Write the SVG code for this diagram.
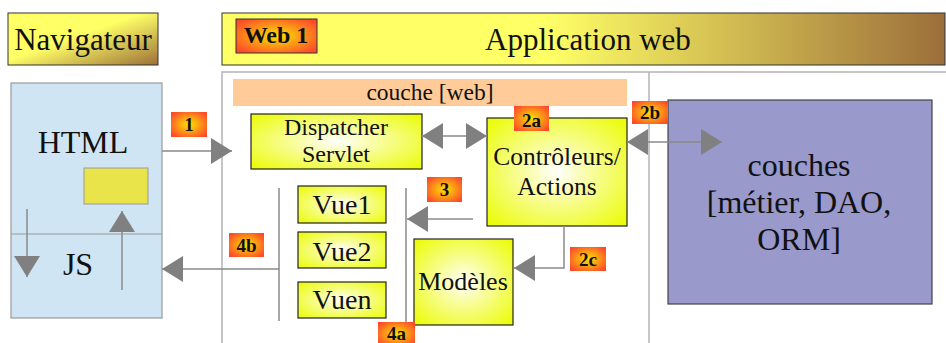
<svg xmlns="http://www.w3.org/2000/svg" width="946" height="343" viewBox="0 0 946 343">
  <defs>
    <linearGradient id="goldNav" x1="0" y1="0" x2="1" y2="1">
      <stop offset="0" stop-color="#ffff66"/>
      <stop offset="0.45" stop-color="#ffff66"/>
      <stop offset="1" stop-color="#9c7038"/>
    </linearGradient>
    <linearGradient id="goldApp" x1="0" y1="0" x2="1" y2="0">
      <stop offset="0" stop-color="#ffff66"/>
      <stop offset="0.45" stop-color="#ffff66"/>
      <stop offset="1" stop-color="#9c6e3a"/>
    </linearGradient>
    <radialGradient id="badgeFill" cx="0.5" cy="0.5" r="0.62">
      <stop offset="0" stop-color="#ffe000"/>
      <stop offset="0.35" stop-color="#fbb010"/>
      <stop offset="1" stop-color="#ff4a2a"/>
    </radialGradient>
    <radialGradient id="boxFill" cx="0.5" cy="0.5" r="0.65">
      <stop offset="0" stop-color="#ffffff"/>
      <stop offset="0.3" stop-color="#fafdb0"/>
      <stop offset="1" stop-color="#ecfc10"/>
    </radialGradient>
    <marker id="head" markerUnits="userSpaceOnUse" markerWidth="22" markerHeight="26" refX="21" refY="13" orient="auto-start-reverse">
      <path d="M0,0 L21,13 L0,26 Z" fill="#808080"/>
    </marker>
    <style>
      .serif { font-family: "Liberation Serif", "Times New Roman", serif; fill: #111; }
      .title { font-size: 31px; }
      .big { font-size: 32px; }
      .mid { font-size: 24px; }
      .badge-t { font-size: 19px; font-weight: bold; }
      .badge { fill: url(#badgeFill); }
      .ybox { fill: url(#boxFill); stroke: #222; stroke-width: 1.2; }
      .link { fill: none; stroke: #8a8a8a; stroke-width: 1.5; }
      .frame { fill: none; stroke: #b4b4b4; stroke-width: 1.5; }
    </style>
  </defs>

  <!-- header bars -->
  <g id="navigateur">
    <rect x="8" y="13" width="150" height="52" fill="url(#goldNav)" stroke="#333" stroke-width="1"/>
    <text class="serif title" x="83" y="50" text-anchor="middle">Navigateur</text>
  </g>
  <g id="application-web">
    <rect x="222" y="13" width="723" height="52" fill="url(#goldApp)" stroke="#333" stroke-width="1"/>
    <text class="serif title" x="588" y="50" text-anchor="middle">Application web</text>
  </g>
  <g id="web1">
    <rect x="236" y="19" width="81" height="34" class="badge" stroke="#333" stroke-width="1"/>
    <text class="serif" x="276" y="43" text-anchor="middle" font-size="24" font-weight="bold">Web 1</text>
  </g>

  <!-- web tier frame -->
  <g id="web-frame">
    <path class="frame" d="M222,343 V72 H946"/>
    <line class="frame" x1="649" y1="72" x2="649" y2="343"/>
  </g>

  <g id="couche-web">
    <rect x="233" y="79" width="394" height="27" fill="#ffcc99"/>
    <text class="serif" x="430" y="100" text-anchor="middle" font-size="23.5">couche [web]</text>
  </g>

  <!-- browser -->
  <g id="browser">
    <rect x="11" y="83" width="151" height="235" fill="#cfe5f3" stroke="#9a9a9a" stroke-width="1.2"/>
    <line x1="11" y1="234" x2="162" y2="234" stroke="#9a9a9a" stroke-width="1.2"/>
    <text class="serif big" x="83" y="153" text-anchor="middle" font-size="31">HTML</text>
    <text class="serif big" x="78" y="275" text-anchor="middle" font-size="31">JS</text>
    <rect x="84" y="168" width="64" height="36" fill="#e8e44a" stroke="#999" stroke-width="1"/>
  </g>

  <g id="dispatcher">
    <rect x="251" y="114" width="171" height="55" class="ybox"/>
    <text class="serif mid" x="336" y="135" text-anchor="middle">Dispatcher</text>
    <text class="serif mid" x="336" y="162" text-anchor="middle">Servlet</text>
  </g>

  <g id="controleurs">
    <rect x="487" y="118" width="140" height="108" class="ybox"/>
    <text class="serif" x="557" y="165" text-anchor="middle" font-size="25.5">Contrôleurs/</text>
    <text class="serif" x="557" y="195" text-anchor="middle" font-size="25.5">Actions</text>
  </g>

  <g id="vue1">
    <rect x="298" y="186" width="88" height="37" class="ybox"/>
    <text class="serif" x="342" y="214" text-anchor="middle" font-size="28">Vue1</text>
  </g>
  <g id="vue2">
    <rect x="298" y="232" width="88" height="36" class="ybox"/>
    <text class="serif" x="342" y="261" text-anchor="middle" font-size="28">Vue2</text>
  </g>
  <g id="vuen">
    <rect x="298" y="282" width="88" height="36" class="ybox"/>
    <text class="serif" x="342" y="309" text-anchor="middle" font-size="28">Vuen</text>
  </g>

  <g id="modeles">
    <rect x="414" y="239" width="99" height="86" class="ybox"/>
    <text class="serif" x="463" y="290" text-anchor="middle" font-size="26">Modèles</text>
  </g>

  <g id="couches">
    <rect x="668" y="100" width="264" height="204" fill="#9999cc" stroke="#444" stroke-width="1.2"/>
    <text class="serif big" x="799" y="176" text-anchor="middle">couches</text>
    <text class="serif big" x="799" y="213" text-anchor="middle">[métier, DAO,</text>
    <text class="serif big" x="799" y="250" text-anchor="middle">ORM]</text>
  </g>

  <!-- connectors -->
  <g id="connectors">
    <!-- inside the browser -->
    <line class="link" x1="27" y1="209" x2="27" y2="277" marker-end="url(#head)"/>
    <line class="link" x1="122" y1="290" x2="122" y2="211" marker-end="url(#head)"/>
    <!-- request to dispatcher -->
    <line class="link" x1="162" y1="151" x2="232" y2="151" marker-end="url(#head)"/>
    <!-- dispatcher <-> controllers -->
    <line class="link" x1="422" y1="136" x2="487" y2="136" marker-start="url(#head)" marker-end="url(#head)"/>
    <!-- controllers <-> back-end layers -->
    <line class="link" x1="627" y1="142" x2="722" y2="142" marker-start="url(#head)" marker-end="url(#head)"/>
    <!-- controllers to view -->
    <line class="link" x1="473" y1="219" x2="407" y2="219" marker-end="url(#head)"/>
    <!-- controllers to models -->
    <polyline class="link" points="564,226 564,268 514,268" marker-end="url(#head)"/>
    <!-- view brackets -->
    <line class="link" x1="279" y1="188" x2="279" y2="321" stroke="#b0b0b0"/>
    <line class="link" x1="406" y1="188" x2="406" y2="323" stroke="#b0b0b0"/>
    <!-- response to browser -->
    <line class="link" x1="279" y1="269" x2="162" y2="269" marker-end="url(#head)"/>
  </g>

  <!-- step badges -->
  <g id="badge-1">
    <rect x="171" y="112" width="36" height="25" class="badge"/>
    <text class="serif badge-t" x="189" y="131" text-anchor="middle">1</text>
  </g>
  <g id="badge-2a">
    <rect x="514" y="106" width="35" height="25" class="badge"/>
    <text class="serif badge-t" x="531.5" y="127" text-anchor="middle">2a</text>
  </g>
  <g id="badge-2b">
    <rect x="632" y="101" width="36" height="23" class="badge"/>
    <text class="serif badge-t" x="650" y="119" text-anchor="middle">2b</text>
  </g>
  <g id="badge-2c">
    <rect x="570" y="247" width="36" height="24" class="badge"/>
    <text class="serif badge-t" x="588" y="266" text-anchor="middle">2c</text>
  </g>
  <g id="badge-3">
    <rect x="427" y="177" width="35" height="25" class="badge"/>
    <text class="serif badge-t" x="444.5" y="196" text-anchor="middle">3</text>
  </g>
  <g id="badge-4b">
    <rect x="229" y="233" width="35" height="24" class="badge"/>
    <text class="serif badge-t" x="246.5" y="252" text-anchor="middle">4b</text>
  </g>
  <g id="badge-4a">
    <rect x="378" y="322" width="37" height="24" class="badge"/>
    <text class="serif badge-t" x="396.5" y="340" text-anchor="middle">4a</text>
  </g>
</svg>
